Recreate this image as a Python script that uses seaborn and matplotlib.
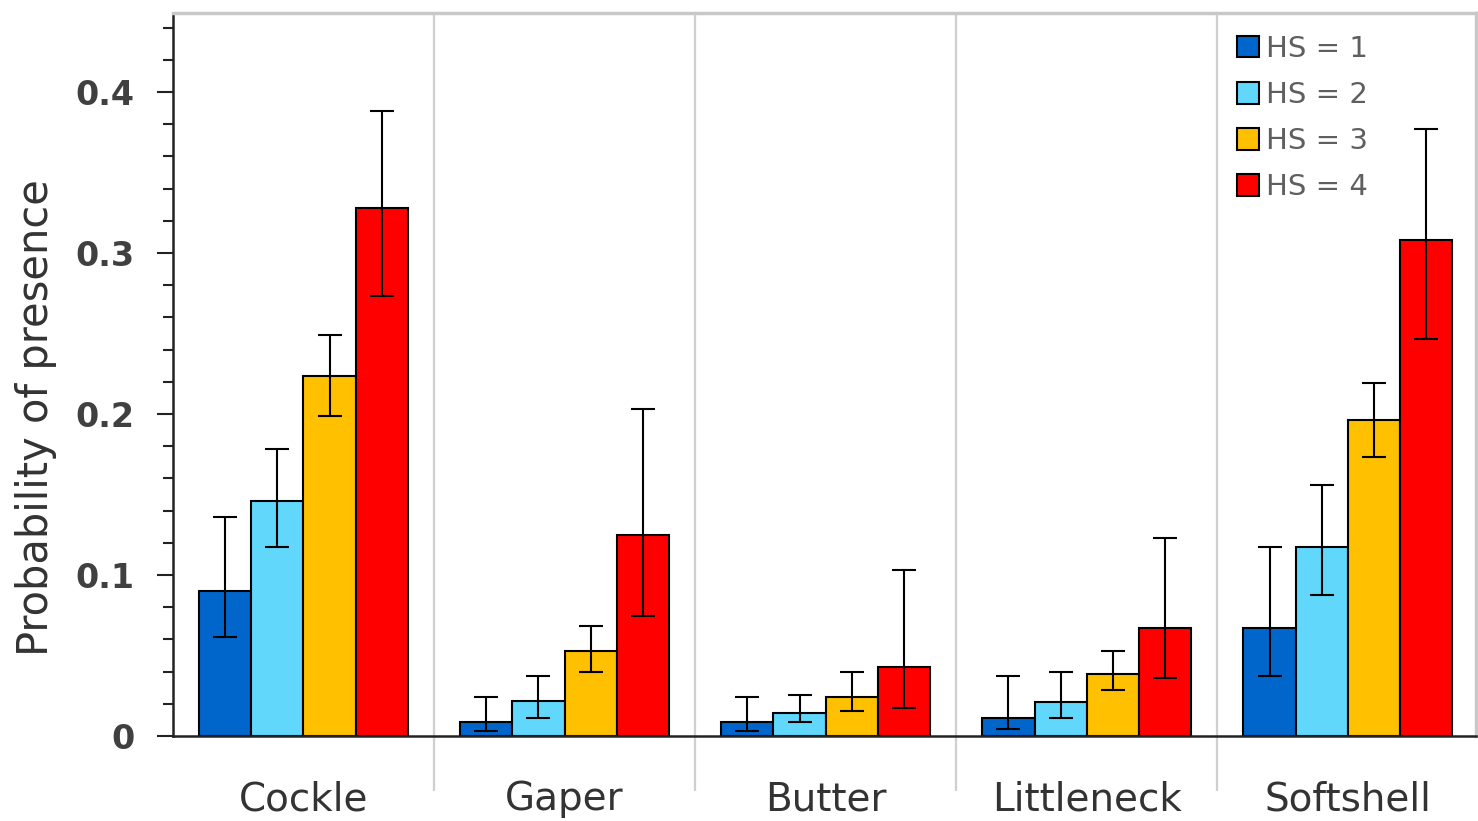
import numpy as np
import pandas as pd
import matplotlib
matplotlib.use("Agg")
import matplotlib.pyplot as plt
import seaborn as sns
from matplotlib.ticker import MultipleLocator, FuncFormatter

# Data
species = ["Cockle", "Gaper", "Butter", "Littleneck", "Softshell"]
hs_levels = ["HS = 1", "HS = 2", "HS = 3", "HS = 4"]

# probability of presence, one list per HS level (in species order)
hs1 = [0.090, 0.0087, 0.0087, 0.0114, 0.0673]
hs2 = [0.146, 0.0215, 0.0143, 0.0213, 0.1172]
hs3 = [0.2236, 0.053, 0.0242, 0.0385, 0.196]
hs4 = [0.328, 0.1246, 0.043, 0.0673, 0.308]

# upper / lower ends of the error bars
hs1_hi = [0.136, 0.0244, 0.0244, 0.0373, 0.1176]
hs1_lo = [0.0617, 0.003, 0.003, 0.0043, 0.0373]
hs2_hi = [0.178, 0.0373, 0.0257, 0.040, 0.156]
hs2_lo = [0.1176, 0.0114, 0.0085, 0.0114, 0.0874]
hs3_hi = [0.249, 0.0685, 0.040, 0.053, 0.219]
hs3_lo = [0.199, 0.040, 0.0157, 0.0286, 0.1733]
hs4_hi = [0.388, 0.2033, 0.1029, 0.1233, 0.377]
hs4_lo = [0.273, 0.0743, 0.0172, 0.0358, 0.2466]

colors = ["#0066CC", "#61D7FB", "#FFC000", "#FF0000"]

values = [hs1, hs2, hs3, hs4]
highs = [hs1_hi, hs2_hi, hs3_hi, hs4_hi]
lows = [hs1_lo, hs2_lo, hs3_lo, hs4_lo]

df = pd.DataFrame({
    "species": species * 4,
    "HS": np.repeat(hs_levels, len(species)),
    "prob": np.concatenate(values),
})

sns.set_theme(style="ticks")
plt.rcParams["font.family"] = ["DejaVu Sans"]

fig, ax = plt.subplots(figsize=(14.78, 8.21), dpi=100)
fig.subplots_adjust(left=0.117, right=0.9985, bottom=0.1035, top=0.984)

sns.barplot(data=df, x="species", y="prob", hue="HS", order=species,
            hue_order=hs_levels, palette=colors, saturation=1,
            edgecolor="black", linewidth=1.5, errorbar=None, width=0.8, ax=ax)

# asymmetric error bars at the bar centres
for cont, v, hi, lo in zip(ax.containers, values, highs, lows):
    xs = [p.get_x() + p.get_width() / 2 for p in cont.patches]
    v = np.array(v)
    yerr = [v - np.array(lo), np.array(hi) - v]
    ax.errorbar(xs, v, yerr=yerr, fmt="none", ecolor="black",
                elinewidth=1.5, capsize=8.5, capthick=1.5, zorder=5)

ax.set_xlim(-0.5, 4.49)
ax.set_ylim(0, 0.449)

# separators between species groups
ax.vlines([0.5, 1.5, 2.5, 3.5], -0.034, 0.449, colors="#cfcfcf",
          linewidth=1.6, clip_on=False, zorder=0)

ax.yaxis.set_major_locator(MultipleLocator(0.1))
ax.yaxis.set_minor_locator(MultipleLocator(0.02))
ax.yaxis.set_major_formatter(FuncFormatter(lambda v, p: "0" if abs(v) < 1e-9 else f"{v:.1f}"))
ax.tick_params(axis="y", which="major", length=11.5, width=1.5, color="#222222",
               labelsize=24, labelcolor="#404040", pad=16)
ax.tick_params(axis="y", which="minor", length=7.5, width=1.5, color="#222222")
for t in ax.get_yticklabels():
    t.set_fontweight("bold")
ax.tick_params(axis="x", length=0, labelsize=28, labelcolor="#333333", pad=32)

ax.set_xlabel("")
ax.set_ylabel("Probability of presence", fontsize=30, color="#333333")
ax.yaxis.set_label_coords(-0.089, 0.44)

for s in ["left", "bottom"]:
    ax.spines[s].set_color("#222222")
    ax.spines[s].set_linewidth(1.8)
for s in ["top", "right"]:
    ax.spines[s].set_color("#c8c8c8")
    ax.spines[s].set_linewidth(2.5)

handles, labels = ax.get_legend_handles_labels()
leg = ax.legend(handles, labels, loc="upper left", bbox_to_anchor=(0.808, 0.986),
                frameon=False, fontsize=21, handlelength=0.75, handleheight=0.75,
                handletextpad=0.25, labelspacing=0.62, borderaxespad=0)
for txt in leg.get_texts():
    txt.set_color("#5f5f5f")

fig.savefig("out.png", dpi=100)
